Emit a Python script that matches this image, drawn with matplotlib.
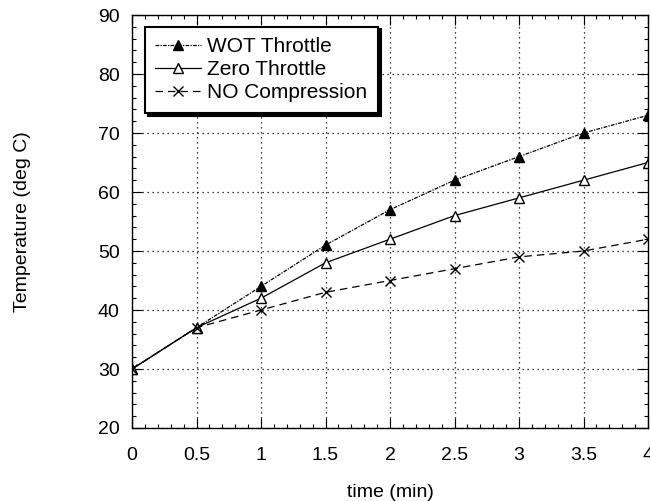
import matplotlib
matplotlib.use("Agg")
import matplotlib.pyplot as plt
from matplotlib.ticker import MultipleLocator

plt.rcParams['font.family'] = ['Liberation Sans', 'DejaVu Sans']

time_min = [0, 0.5, 1, 1.5, 2, 2.5, 3, 3.5, 4]
wot = [30, 37, 44, 51, 57, 62, 66, 70, 73]
zero = [30, 37, 42, 48, 52, 56, 59, 62, 65]
nocomp = [30, 37, 40, 43, 45, 47, 49, 50, 52]
xtick_labels = ['0', '0.5', '1', '1.5', '2', '2.5', '3', '3.5', '4']

fig = plt.figure(figsize=(6.5, 5.01), dpi=100)
ax = fig.add_axes([132/650, 1-428/501, (648-132)/650, (428-15)/501])

ax.plot(time_min, wot, color='black', lw=0.9, ls=(0, (3, 1, 1, 1)),
        marker='^', ms=7, mfc='black', mec='black', label='WOT Throttle')
ax.plot(time_min, zero, color='black', lw=0.9, ls='-',
        marker='^', ms=7, mfc='white', mec='black', label='Zero Throttle')
ax.plot(time_min, nocomp, color='black', lw=0.9, ls=(0, (6, 4)),
        marker='x', ms=7, mec='black', label='NO Compression')

ax.set_xlim(0, 4)
ax.set_ylim(20, 90)
ax.xaxis.set_minor_locator(MultipleLocator(0.1))
ax.yaxis.set_major_locator(MultipleLocator(10))
ax.yaxis.set_minor_locator(MultipleLocator(2))
ax.set_xticks(time_min)
ax.set_xticklabels(xtick_labels)
ax.tick_params(which='both', direction='in', top=True, right=True, labelsize=14, width=0.8)
ax.tick_params(which='major', length=7)
ax.tick_params(which='minor', length=3)
ax.tick_params(axis='x', which='major', pad=14)
ax.tick_params(axis='y', which='major', pad=9)
ax.grid(True, which='major', color='black', ls=(0, (1, 3)), lw=0.9)
for s in ax.spines.values():
    s.set_linewidth(1.0)

ax.set_xlabel('time (min)', fontsize=14, labelpad=14)
fig.text(23/650, 1-222/501, 'Temperature (deg C)', rotation=90, fontsize=14,
         ha='center', va='center')

leg = ax.legend(loc='upper left', bbox_to_anchor=(0.025, 0.972), fontsize=15,
                frameon=True, fancybox=False, shadow={'color': 'black', 'alpha': 1},
                edgecolor='black', handlelength=2.2, handletextpad=0.3,
                borderpad=0.5, labelspacing=0.2, borderaxespad=0)
leg.get_frame().set_linewidth(1.5)

fig.savefig('out.png', dpi=100)
